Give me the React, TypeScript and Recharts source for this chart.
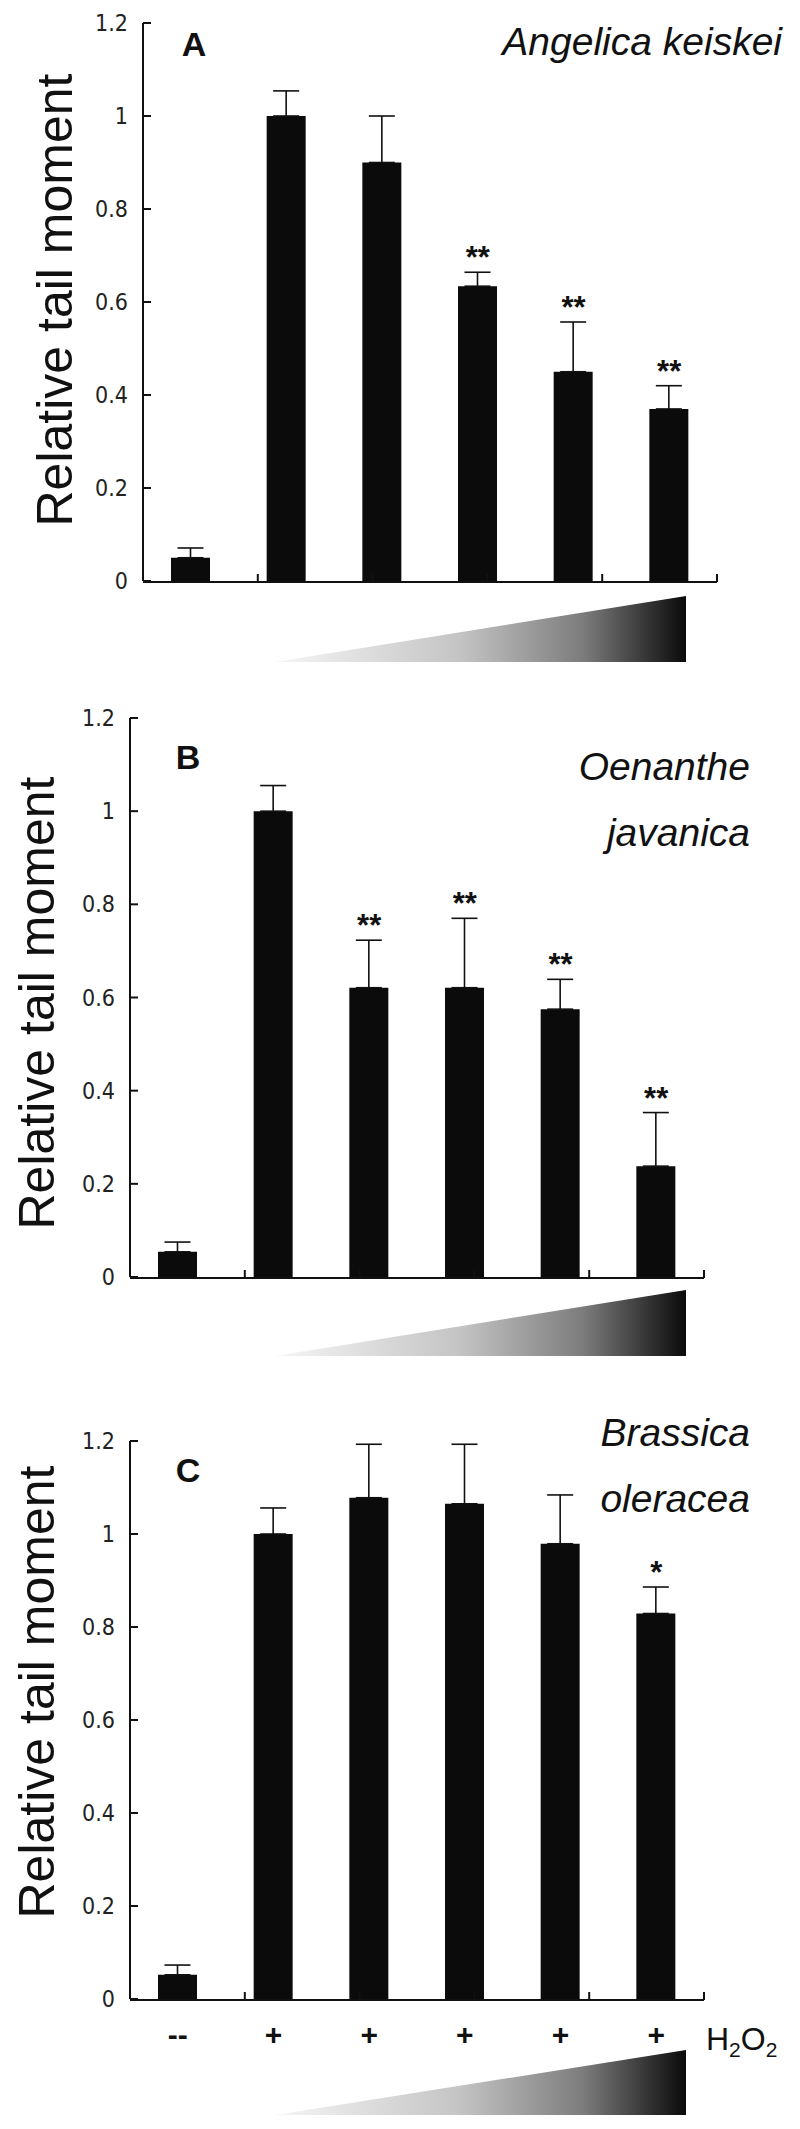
import React from "react";
import { ComposedChart, Bar, XAxis, YAxis, ErrorBar, Scatter, ReferenceLine, Customized } from "recharts";

// treatment row under the last panel
const doses = ["--", "+", "+", "+", "+", "+"];
const yTicks = [0, 0.2, 0.4, 0.6, 0.8, 1, 1.2];
const edgeTicks = [1, 2, 3, 4, 5, 6];

// A - Angelica keiskei
const meansA = [0.05, 1.0, 0.9, 0.634, 0.45, 0.37];
const errsA = [0.021, 0.054, 0.1, 0.03, 0.107, 0.05];
const sigA = ["", "", "", "**", "**", "**"];

// B - Oenanthe javanica
const meansB = [0.054, 1.0, 0.621, 0.621, 0.575, 0.238];
const errsB = [0.021, 0.055, 0.102, 0.149, 0.064, 0.115];
const sigB = ["", "", "**", "**", "**", "**"];

// C - Brassica oleracea
const meansC = [0.052, 1.0, 1.078, 1.065, 0.979, 0.829];
const errsC = [0.021, 0.056, 0.115, 0.128, 0.105, 0.057];
const sigC = ["", "", "", "", "", "*"];

const SANS = "'Liberation Sans', Arial, sans-serif";
const NARROW = "'Liberation Sans Narrow', 'Arial Narrow', 'DejaVu Sans Condensed', sans-serif";
const W = 800;
const PLOT_W = 574;
const INK = "#111";

const build = (means: number[], errs: number[], sig: string[]) =>
  doses.map((d, i) => ({
    dose: d,
    mean: means[i],
    err: [0, errs[i]],
    top: means[i] + errs[i],
    sig: sig[i],
  }));

interface PanelProps {
  id: string;
  data: any[];
  height: number;
  top: number;
  bottom: number;
  axisX: number;
  letter: string;
  letterX: number;
  letterY: number;
  species: string[];
  speciesRight: number;
  speciesY: number[];
  labelX: number;
  labelY: number;
  tri: number[]; // x0, x1, yTop, yBottom
  showDose?: boolean;
}

// y ticks point inward, labels sit outside
const YTick = (props: any) => {
  const { x, y, payload } = props;
  const ax = x + 15;
  return (
    <g>
      <line x1={ax} x2={ax + 8} y1={y} y2={y} stroke={INK} strokeWidth={2} />
      <text x={x} y={y} dy="0.35em" textAnchor="end" fill="#222" fontSize={23} fontFamily={NARROW}>
        {payload.value}
      </text>
    </g>
  );
};

// category boundary ticks on the x axis, pointing up
const EdgeTick = (props: any) => {
  const { x, y } = props;
  const ay = y - 1;
  return <line x1={x} x2={x} y1={ay} y2={ay - 8} stroke={INK} strokeWidth={2} />;
};

const Decor = ({ p }: { p: PanelProps }) => {
  const [x0, x1, yt, yb] = p.tri;
  return (
    <g>
      <defs>
        <linearGradient id={`grad${p.id}`} x1="0" y1="0" x2="1" y2="0">
          <stop offset="0" stopColor="#f6f6f6" />
          <stop offset="0.45" stopColor="#c4c4c4" />
          <stop offset="0.75" stopColor="#7c7c7c" />
          <stop offset="1" stopColor="#0a0a0a" />
        </linearGradient>
      </defs>
      <polygon points={`${x0},${yb} ${x1},${yt} ${x1},${yb}`} fill={`url(#grad${p.id})`} />
      <text
        x={p.labelX}
        y={p.labelY}
        transform={`rotate(-90 ${p.labelX} ${p.labelY})`}
        textAnchor="middle"
        fontSize={50}
        fill={INK}
      >
        Relative tail moment
      </text>
      <text x={p.letterX} y={p.letterY} textAnchor="middle" fontSize={34} fontWeight="bold" fill={INK}>
        {p.letter}
      </text>
      {p.species.map((s, i) => (
        <text key={s} x={p.speciesRight} y={p.speciesY[i]} textAnchor="end" fontSize={39} fontStyle="italic" fill={INK}>
          {s}
        </text>
      ))}
      {p.showDose && (
        <text x={706} y={650} fontSize={32} fill={INK}>
          H<tspan fontSize={21} dy={7}>2</tspan>
          <tspan dy={-7}>O</tspan>
          <tspan fontSize={21} dy={7}>2</tspan>
        </text>
      )}
    </g>
  );
};

const Stars = (props: any) => {
  const { cx, cy, payload } = props;
  if (!payload || !payload.sig) return <g />;
  return (
    <text x={cx} y={cy - 4} textAnchor="middle" fontSize={31} fontWeight="bold" fill={INK}>
      {payload.sig}
    </text>
  );
};

const Panel = (p: PanelProps) => (
  <ComposedChart
    width={W}
    height={p.height}
    data={p.data}
    margin={{ top: p.top, right: W - p.axisX - PLOT_W, bottom: p.bottom, left: 0 }}
  >
    <YAxis
      type="number"
      domain={[0, 1.2]}
      ticks={yTicks}
      interval={0}
      width={p.axisX}
      axisLine={false}
      tickLine={false}
      tickSize={1}
      tickMargin={14}
      tick={<YTick />}
    />
    <XAxis
      xAxisId="edge"
      type="number"
      domain={[0, 6]}
      ticks={edgeTicks}
      interval={0}
      height={1}
      tickSize={1}
      tickMargin={0}
      tickLine={false}
      tick={<EdgeTick />}
      stroke={INK}
      strokeWidth={2}
      axisLine={true}
    />
    <XAxis
      xAxisId="cat"
      dataKey="dose"
      height={1}
      axisLine={false}
      tickLine={false}
      tickSize={0}
      tickMargin={25}
      interval={0}
      tick={p.showDose ? { fill: INK, fontSize: 30, fontWeight: "bold" } : false}
    />
    {/* the y axis line */}
    <ReferenceLine xAxisId="edge" x={0} stroke={INK} strokeWidth={2} ifOverflow="visible" />
    <Bar xAxisId="cat" dataKey="mean" fill="#0b0b0b" barSize={39} isAnimationActive={false}>
      <ErrorBar dataKey="err" width={13} stroke={INK} strokeWidth={1.6} direction="y" />
    </Bar>
    <Scatter xAxisId="cat" dataKey="top" shape={Stars} isAnimationActive={false} />
    <Customized component={<Decor p={p} />} />
  </ComposedChart>
);

const panels: PanelProps[] = [
  {
    id: "A",
    data: build(meansA, errsA, sigA),
    height: 700,
    top: 23,
    bottom: 117,
    axisX: 143,
    letter: "A",
    letterX: 194,
    letterY: 56,
    species: ["Angelica keiskei"],
    speciesRight: 782,
    speciesY: [55],
    labelX: 72,
    labelY: 300,
    tri: [275, 686, 596, 662],
  },
  {
    id: "B",
    data: build(meansB, errsB, sigB),
    height: 700,
    top: 18,
    bottom: 121,
    axisX: 130,
    letter: "B",
    letterX: 188,
    letterY: 69,
    species: ["Oenanthe", "javanica"],
    speciesRight: 750,
    speciesY: [80, 146],
    labelX: 54,
    labelY: 303,
    tri: [275, 686, 590, 656],
  },
  {
    id: "C",
    data: build(meansC, errsC, sigC),
    height: 729,
    top: 41,
    bottom: 128,
    axisX: 130,
    letter: "C",
    letterX: 188,
    letterY: 82,
    species: ["Brassica", "oleracea"],
    speciesRight: 750,
    speciesY: [46, 112],
    labelX: 54,
    labelY: 292,
    tri: [275, 686, 650, 715],
    showDose: true,
  },
];

const offsets = [0, 700, 1400];

export default function App() {
  return (
    <div
      style={{
        position: "absolute",
        left: 0,
        top: 0,
        width: W,
        height: 2129,
        background: "#fff",
        fontFamily: SANS,
      }}
    >
      {panels.map((p, i) => (
        <div key={p.id} style={{ position: "absolute", left: 0, top: offsets[i] }}>
          <Panel {...p} />
        </div>
      ))}
    </div>
  );
}
